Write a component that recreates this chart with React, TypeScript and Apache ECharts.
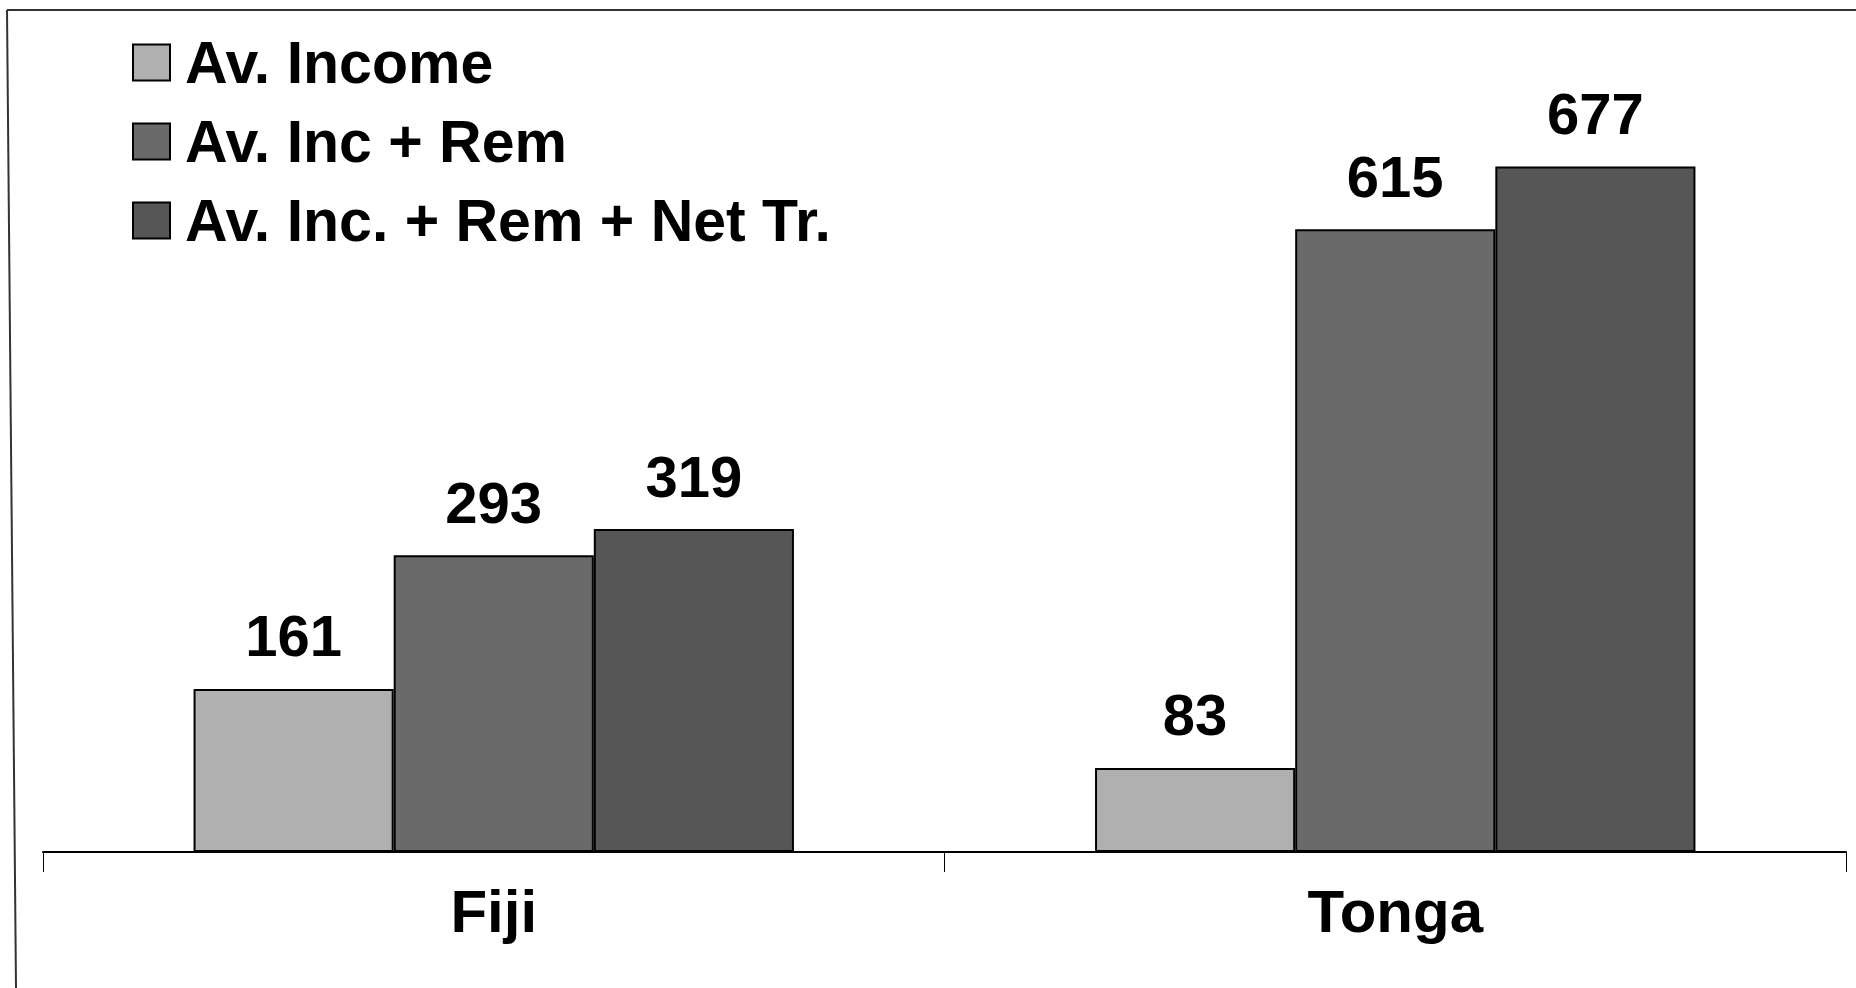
import React, { useEffect, useRef } from "react";
import * as echarts from "echarts";

const categories = ["Fiji", "Tonga"];
const seriesNames = ["Av. Income", "Av. Inc + Rem", "Av. Inc. + Rem + Net Tr."];
const avIncome = [161, 83];
const avIncRem = [293, 615];
const avIncRemNet = [319, 677];
const colors = ["#b0b0b0", "#6a6a6a", "#565656"];

const FONT = "'Liberation Sans', Arial, sans-serif";

export default function App() {
  const ref = useRef<HTMLDivElement>(null);
  useEffect(() => {
    if (!ref.current) return;
    const chart = echarts.init(ref.current, null, { renderer: "svg" });
    const values = [avIncome, avIncRem, avIncRemNet];
    chart.setOption({
      animation: false,
      backgroundColor: "#ffffff",
      textStyle: { fontFamily: FONT },
      grid: { left: 43, right: 10, top: 42, bottom: 136 },
      legend: {
        orient: "vertical",
        left: 127,
        top: 28,
        itemWidth: 37,
        itemHeight: 36,
        itemGap: 20,
        icon: "rect",
        data: seriesNames,
        textStyle: {
          fontFamily: FONT,
          fontSize: 59,
          fontWeight: "bold",
          color: "#000",
          lineHeight: 56,
          padding: [0, 0, 0, 10],
        },
      },
      xAxis: {
        type: "category",
        data: categories,
        axisLine: { show: true, lineStyle: { color: "#000", width: 2 } },
        axisTick: { show: true, length: 20, lineStyle: { color: "#000", width: 1 } },
        axisLabel: {
          margin: 29,
          fontFamily: FONT,
          fontSize: 60,
          fontWeight: "bold",
          color: "#000",
        },
      },
      yAxis: {
        type: "value",
        min: 0,
        max: 800,
        show: false,
        splitLine: { show: false },
      },
      series: seriesNames.map((name, i) => ({
        name,
        type: "bar",
        data: values[i],
        barGap: "0%",
        barCategoryGap: "33.4%",
        itemStyle: { color: colors[i], borderColor: "#000", borderWidth: 2 },
        label: {
          show: true,
          position: "top",
          distance: 24,
          fontFamily: FONT,
          fontSize: 58,
          fontWeight: "bold",
          color: "#000",
        },
      })),
      graphic: [
        {
          type: "line",
          shape: { x1: 7, y1: 10, x2: 1856, y2: 10 },
          style: { stroke: "#333", lineWidth: 2 },
        },
        {
          type: "line",
          shape: { x1: 7, y1: 10, x2: 16, y2: 988 },
          style: { stroke: "#333", lineWidth: 2 },
        },
      ],
    });
    return () => chart.dispose();
  }, []);
  return (
    <div
      ref={ref}
      style={{ position: "fixed", left: 0, top: 0, width: 1856, height: 988 }}
    />
  );
}
